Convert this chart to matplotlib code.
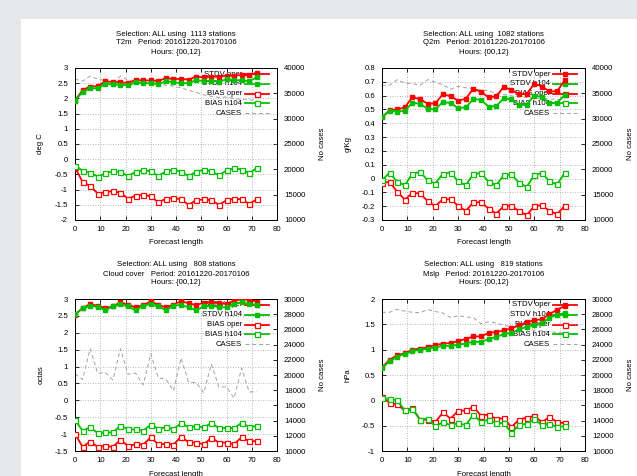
import matplotlib
matplotlib.use("Agg")
import matplotlib.pyplot as plt
from matplotlib.patches import Rectangle
from matplotlib.lines import Line2D
from matplotlib.ticker import FixedLocator, FormatStrFormatter
import numpy as np

plt.rcParams['font.family'] = ['Liberation Sans', 'DejaVu Sans']

W, H = 637, 476

hours = [0, 3, 6, 9, 12, 15, 18, 21, 24, 27, 30, 33, 36, 39, 42, 45, 48, 51, 54, 57, 60, 63, 66, 69, 72]

# ---- T2m ----
t2m_stdv_oper = [1.93, 2.27, 2.39, 2.40, 2.56, 2.54, 2.54, 2.50, 2.61, 2.59, 2.59, 2.57, 2.67, 2.64, 2.64,
                 2.62, 2.72, 2.69, 2.72, 2.71, 2.75, 2.75, 2.77, 2.76, 2.85]
t2m_stdv_h104 = [1.93, 2.21, 2.33, 2.33, 2.48, 2.46, 2.45, 2.43, 2.53, 2.50, 2.50, 2.47, 2.56, 2.53, 2.50,
                 2.50, 2.60, 2.57, 2.57, 2.55, 2.63, 2.60, 2.60, 2.56, 2.70]
t2m_bias_oper = [-0.27, -0.75, -0.88, -1.13, -1.08, -1.05, -1.10, -1.30, -1.20, -1.17, -1.22, -1.42, -1.30,
                 -1.27, -1.32, -1.50, -1.35, -1.32, -1.35, -1.50, -1.35, -1.30, -1.32, -1.47, -1.32]
t2m_bias_h104 = [-0.21, -0.38, -0.44, -0.57, -0.47, -0.39, -0.42, -0.55, -0.42, -0.35, -0.40, -0.55, -0.40,
                 -0.34, -0.41, -0.56, -0.41, -0.35, -0.40, -0.53, -0.37, -0.29, -0.34, -0.47, -0.28]
t2m_cases = [37800, 37400, 38400, 37800, 37500, 37100, 38400, 37600, 37300, 37000, 37300, 36800, 36600,
             36400, 36100, 35600, 35200, 34700, 34400, 34200, 34300, 34000, 33800, 33700, 33600]

# ---- Q2m ----
q2m_stdv_oper = [0.443, 0.494, 0.500, 0.515, 0.590, 0.574, 0.541, 0.544, 0.611, 0.596, 0.564, 0.577, 0.650,
                 0.627, 0.589, 0.594, 0.665, 0.640, 0.612, 0.612, 0.686, 0.666, 0.630, 0.632, 0.710]
q2m_stdv_h104 = [0.443, 0.491, 0.485, 0.490, 0.550, 0.540, 0.505, 0.500, 0.555, 0.545, 0.510, 0.515, 0.575,
                 0.570, 0.520, 0.525, 0.580, 0.575, 0.530, 0.535, 0.600, 0.592, 0.545, 0.548, 0.605]
q2m_bias_oper = [-0.031, -0.024, -0.096, -0.152, -0.104, -0.108, -0.164, -0.200, -0.150, -0.150, -0.197,
                 -0.234, -0.173, -0.171, -0.217, -0.253, -0.200, -0.197, -0.236, -0.265, -0.200, -0.193,
                 -0.234, -0.258, -0.197]
q2m_bias_h104 = [-0.012, 0.043, -0.024, -0.048, 0.036, 0.048, -0.012, -0.036, 0.036, 0.043, -0.020, -0.048,
                 0.031, 0.041, -0.024, -0.048, 0.024, 0.031, -0.031, -0.060, 0.024, 0.041, -0.020, -0.043,
                 0.041]
q2m_cases = [36600, 36600, 37700, 37000, 36900, 36600, 37700, 37200, 36700, 35800, 36400, 36100, 35800,
             35700, 35500, 35000, 34800, 34500, 34300, 34200, 34100, 34000, 33900, 33800, 33700]

# ---- Cloud cover ----
cc_stdv_oper = [2.54, 2.73, 2.85, 2.80, 2.73, 2.78, 2.90, 2.83, 2.75, 2.82, 2.93, 2.83, 2.75, 2.83, 2.94,
                2.87, 2.82, 2.89, 2.90, 2.88, 2.86, 2.95, 2.99, 2.98, 2.92]
cc_stdv_h104 = [2.55, 2.72, 2.80, 2.77, 2.67, 2.78, 2.84, 2.78, 2.67, 2.80, 2.85, 2.78, 2.67, 2.80, 2.83,
                2.75, 2.67, 2.78, 2.80, 2.76, 2.75, 2.85, 2.90, 2.85, 2.83]
cc_bias_oper = [-0.99, -1.38, -1.22, -1.38, -1.35, -1.38, -1.17, -1.35, -1.30, -1.31, -1.10, -1.30, -1.29,
                -1.31, -1.08, -1.24, -1.25, -1.30, -1.11, -1.25, -1.25, -1.30, -1.09, -1.21, -1.21]
cc_bias_h104 = [-0.58, -0.90, -0.80, -0.97, -0.95, -0.95, -0.75, -0.86, -0.86, -0.90, -0.72, -0.84, -0.80,
                -0.85, -0.68, -0.79, -0.77, -0.80, -0.67, -0.82, -0.82, -0.82, -0.67, -0.79, -0.76]
cc_cases = [20150, 19400, 23450, 20200, 20350, 19350, 23450, 20100, 20250, 18700, 22800, 19600, 19450,
            17950, 22250, 19050, 19000, 17650, 21450, 18400, 18450, 16950, 20900, 17750, 17850]

# ---- Mslp ----
mslp_stdv_oper = [0.65, 0.80, 0.89, 0.93, 1.00, 1.02, 1.05, 1.09, 1.12, 1.13, 1.17, 1.21, 1.26, 1.26, 1.33,
                  1.35, 1.38, 1.42, 1.48, 1.54, 1.58, 1.60, 1.70, 1.79, 1.86]
mslp_stdv_h104 = [0.64, 0.77, 0.86, 0.92, 0.97, 1.00, 1.02, 1.04, 1.08, 1.07, 1.10, 1.12, 1.16, 1.15, 1.21,
                  1.25, 1.31, 1.33, 1.40, 1.45, 1.49, 1.52, 1.63, 1.69, 1.72]
mslp_bias_oper = [0.06, -0.05, -0.08, -0.20, -0.16, -0.38, -0.38, -0.43, -0.24, -0.36, -0.21, -0.20, -0.13,
                  -0.30, -0.28, -0.37, -0.35, -0.53, -0.38, -0.34, -0.31, -0.43, -0.33, -0.43, -0.45]
mslp_bias_h104 = [0.05, 0.02, 0.00, -0.20, -0.18, -0.38, -0.36, -0.51, -0.43, -0.49, -0.45, -0.49, -0.28,
                  -0.43, -0.38, -0.45, -0.45, -0.64, -0.49, -0.46, -0.37, -0.49, -0.46, -0.53, -0.51]
mslp_cases = [28250, 28250, 28650, 28400, 28250, 28200, 28600, 28350, 28150, 27550, 27800, 27650, 27550,
              26750, 27000, 26850, 26550, 26350, 26200, 26000, 25900, 25800, 25700, 25600, 25500]

legend_labels = ["STDV oper", "STDV h104", "BIAS oper", "BIAS h104", "CASES"]
x_ticks = [0, 10, 20, 30, 40, 50, 60, 70, 80]

panels = [
    dict(rect=(75, 68, 277, 220), title=["Selection: ALL using  1113 stations",
                                          "T2m   Period: 20161220-20170106", "Hours: {00,12}"],
         ylabel="deg C", ylim=(-2, 3), yticks=[-2, -1.5, -1, -0.5, 0, 0.5, 1, 1.5, 2, 2.5, 3],
         y2lim=(10000, 40000), y2ticks=[10000, 15000, 20000, 25000, 30000, 35000, 40000],
         data=(t2m_stdv_oper, t2m_stdv_h104, t2m_bias_oper, t2m_bias_h104, t2m_cases)),
    dict(rect=(382, 68, 585, 220), title=["Selection: ALL using  1082 stations",
                                           "Q2m   Period: 20161220-20170106", "Hours: {00,12}"],
         ylabel="g/Kg", ylim=(-0.3, 0.8),
         yticks=[-0.3, -0.2, -0.1, 0, 0.1, 0.2, 0.3, 0.4, 0.5, 0.6, 0.7, 0.8],
         y2lim=(10000, 40000), y2ticks=[10000, 15000, 20000, 25000, 30000, 35000, 40000],
         data=(q2m_stdv_oper, q2m_stdv_h104, q2m_bias_oper, q2m_bias_h104, q2m_cases)),
    dict(rect=(75, 299, 277, 451), title=["Selection: ALL using   808 stations",
                                           "Cloud cover   Period: 20161220-20170106", "Hours: {00,12}"],
         ylabel="octas", ylim=(-1.5, 3), yticks=[-1.5, -1, -0.5, 0, 0.5, 1, 1.5, 2, 2.5, 3],
         y2lim=(10000, 30000),
         y2ticks=[10000, 12000, 14000, 16000, 18000, 20000, 22000, 24000, 26000, 28000, 30000],
         data=(cc_stdv_oper, cc_stdv_h104, cc_bias_oper, cc_bias_h104, cc_cases)),
    dict(rect=(382, 299, 585, 451), title=["Selection: ALL using   819 stations",
                                            "Mslp   Period: 20161220-20170106", "Hours: {00,12}"],
         ylabel="hPa", ylim=(-1, 2), yticks=[-1, -0.5, 0, 0.5, 1, 1.5, 2],
         y2lim=(10000, 30000),
         y2ticks=[10000, 12000, 14000, 16000, 18000, 20000, 22000, 24000, 26000, 28000, 30000],
         data=(mslp_stdv_oper, mslp_stdv_h104, mslp_bias_oper, mslp_bias_h104, mslp_cases)),
]

RED = '#ff0000'
GREEN = '#00c000'
GRAY = '#a0a0a0'
FS = 5.6

fig = plt.figure(figsize=(W / 100, H / 100), dpi=100)
fig.patch.set_facecolor('#e6e7e9')
fig.patches.append(Rectangle((21 / W, 0), 1 - 21 / W, 1 - 19 / H, transform=fig.transFigure,
                             facecolor='white', edgecolor='none', zorder=-10))


def fx(X):
    return X / W


def fy(Y):
    return 1 - Y / H


for p in panels:
    L, T, R, B = p['rect']
    ax = fig.add_axes([fx(L), fy(B), (R - L) / W, (B - T) / H])
    ax2 = ax.twinx()
    ax.set_zorder(ax2.get_zorder() + 1)
    ax.patch.set_visible(False)

    so, sh, bo, bh, cases = p['data']
    ax2.plot(hours, cases, color=GRAY, lw=0.7, ls=(0, (4, 3)))
    ax.plot(hours, so, color=RED, lw=1.3, marker='s', ms=3.4, mfc=RED, mec=RED, zorder=3)
    ax.plot(hours, sh, color=GREEN, lw=1.3, marker='s', ms=3.4, mfc=GREEN, mec=GREEN, zorder=3)
    ax.plot(hours, bo, color=RED, lw=1.3, marker='s', ms=3.6, mfc='white', mec=RED, mew=0.9, zorder=3)
    ax.plot(hours, bh, color=GREEN, lw=1.3, marker='s', ms=3.6, mfc='white', mec=GREEN, mew=0.9, zorder=3)

    ax.set_xlim(0, 80)
    ax.set_ylim(*p['ylim'])
    ax2.set_ylim(*p['y2lim'])
    ax.xaxis.set_major_locator(FixedLocator(x_ticks))
    ax.yaxis.set_major_locator(FixedLocator(p['yticks']))
    ax2.yaxis.set_major_locator(FixedLocator(p['y2ticks']))
    ax.yaxis.set_major_formatter(FormatStrFormatter('%g'))
    ax.xaxis.set_major_formatter(FormatStrFormatter('%g'))
    ax2.yaxis.set_major_formatter(FormatStrFormatter('%g'))

    ax.grid(True, color=GRAY, ls=(0, (1, 2)), lw=0.6)
    ax.tick_params(axis='x', direction='in', top=True, length=3, width=0.6, labelsize=FS, pad=4, colors='black')
    ax.tick_params(axis='y', direction='in', right=False, length=3, width=0.6, labelsize=FS, pad=5)
    ax2.tick_params(axis='y', direction='in', length=3, width=0.6, labelsize=FS, pad=5)
    for a in (ax, ax2):
        for s in a.spines.values():
            s.set_linewidth(0.7)
            s.set_color('black')

    # titles
    cx = (L + R) / 2
    for k, dy in enumerate([-34, -25, -16]):
        fig.text(fx(cx), fy(T + dy), p['title'][k], ha='center', va='center', fontsize=FS)
    fig.text(fx(L - 34), fy((T + B) / 2), p['ylabel'], rotation=90, ha='center', va='center', fontsize=FS)
    fig.text(fx(R + 45), fy((T + B) / 2), "No cases", rotation=90, ha='center', va='center', fontsize=FS)
    fig.text(fx(cx), fy(B + 23), "Forecast length", ha='center', va='center', fontsize=FS)

    # key (gnuplot style, inside top right)
    styles = [dict(color=RED, marker='s', ms=3.4, mfc=RED, mec=RED, lw=1.3),
              dict(color=GREEN, marker='s', ms=3.4, mfc=GREEN, mec=GREEN, lw=1.3),
              dict(color=RED, marker='s', ms=3.6, mfc='white', mec=RED, mew=0.9, lw=1.3),
              dict(color=GREEN, marker='s', ms=3.6, mfc='white', mec=GREEN, mew=0.9, lw=1.3),
              dict(color=GRAY, lw=0.7, ls=(0, (4, 3)))]
    for i, lab in enumerate(legend_labels):
        Y = T + 6 + 9.8 * i
        ay = (B - Y) / (B - T)
        tx = (R - 35 - L) / (R - L)
        x1 = (R - 32 - L) / (R - L)
        x2 = (R - 8 - L) / (R - L)
        ax.text(tx, ay, lab, transform=ax.transAxes, ha='right', va='center', fontsize=FS, zorder=1)
        st = styles[i]
        ln = Line2D([x1, x2], [ay, ay], transform=ax.transAxes, zorder=1.5,
                    color=st['color'], lw=st['lw'], ls=st.get('ls', '-'))
        ax.add_line(ln)
        if 'marker' in st:
            ax.add_line(Line2D([(x1 + x2) / 2], [ay], transform=ax.transAxes, zorder=1.6, ls='none',
                               marker='s', ms=st['ms'], mfc=st['mfc'], mec=st['mec'],
                               mew=st.get('mew', 1.0)))

fig.savefig('out.png', dpi=100, facecolor=fig.get_facecolor())
